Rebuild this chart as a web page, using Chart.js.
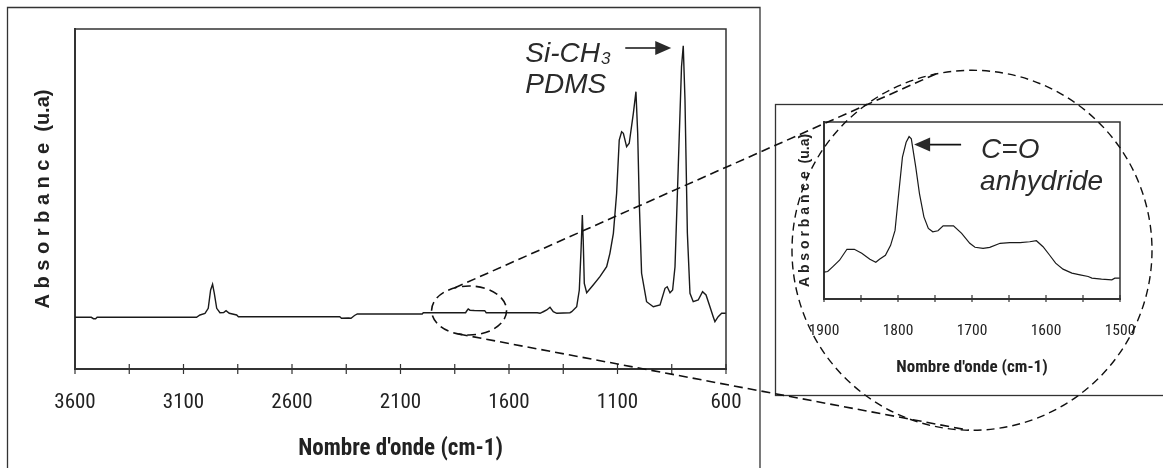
<!DOCTYPE html>
<html>
<head>
<meta charset="utf-8">
<script src="https://cdn.jsdelivr.net/npm/chart.js@4.4.1/dist/chart.umd.min.js"></script>
<style>
    html, body { margin: 0; padding: 0; background: #fff; }
    #wrap { position: relative; width: 1163px; height: 468px; overflow: hidden; background: #fff; }
    canvas { position: absolute; }
</style>
</head>
<body>
<div id="wrap">
    <canvas id="mainChart" width="1163" height="468" style="left:0;top:0"></canvas>
    <canvas id="insetChart" width="388" height="292" style="left:775px;top:104px"></canvas>
    <canvas id="overlay" width="1163" height="468" style="left:0;top:0"></canvas>
</div>
<script>
// Main FTIR spectrum (wavenumber in cm-1, absorbance in arbitrary units)
var mainWavenumber = [3600, 3525, 3515, 3505, 3498, 3040, 3024, 3001, 2986, 2975, 2966, 2958, 2947, 2932, 2915, 2904, 2889, 2855, 2847,
    2380, 2372, 2340, 2328, 2312, 2299, 2000, 1995, 1800, 1795, 1788, 1780, 1760, 1712, 1705, 1470, 1457, 1440, 1426, 1411, 1396, 1380,
    1319, 1311, 1288, 1276, 1268, 1262, 1258, 1253, 1242, 1212, 1181, 1150, 1135, 1119, 1104, 1092, 1081, 1073, 1058, 1046, 1027, 1015,
    1007, 1000, 989, 966, 935, 904, 881, 871, 858, 846, 835, 820, 805, 797, 789, 778, 766, 751, 728, 708, 692, 674, 659, 651, 636, 620, 600];
var mainAbsorbance = [51.7, 51.7, 50.3, 50.3, 51.7, 51.7, 54, 55.7, 60.7, 79, 84.7, 75.7, 60.7, 56.3, 56.5, 58.3, 55.7, 54, 52.3,
    52.3, 50.8, 51, 50.8, 53.5, 55, 55, 56.3, 56.3, 58, 60, 58.8, 58.5, 58.3, 56.3, 56.3, 55.7, 57.5, 59, 61.7, 57.3, 55.7,
    56.3, 57.3, 62.3, 79, 119, 154, 129, 85.7, 76.3, 84, 92.3, 102.3, 115.7, 135.7, 175.7, 229, 237.3, 235.7, 222.3, 225.7, 255.7, 277.3,
    235.7, 169, 95.7, 67.3, 62.3, 64, 80.7, 82.3, 76.3, 79, 102.3, 202.3, 302.3, 323.3, 269, 135.7, 75.7, 67.3, 69, 77.3, 74, 62.3, 52.3, 47.3, 52.3, 55.7, 55.7];

// Zoom on the C=O anhydride band
var insetWavenumber = [1900, 1895, 1888, 1879, 1869, 1859, 1849, 1838, 1830, 1825, 1817, 1810, 1804, 1800, 1794, 1789, 1785, 1782,
    1776, 1771, 1765, 1759, 1753, 1746, 1739, 1725, 1714, 1703, 1696, 1685, 1676, 1662, 1649, 1635, 1622, 1613, 1604, 1595, 1587,
    1577, 1565, 1554, 1543, 1538, 1525, 1511, 1507, 1500];
var insetAbsorbance = [27, 27.6, 32.6, 39, 50, 50, 46, 40, 37, 40, 44, 54, 69, 99, 142.6, 157.6, 163.3, 161,
    132.6, 106, 82.6, 71, 67.6, 68.6, 73.6, 73.6, 66, 56, 52, 51, 52, 56, 56.6, 56.6, 57.6, 58.6, 52.6, 44, 36,
    30, 26, 24.3, 22.6, 21, 20, 19.3, 21, 21];

var mainTicks = [3600, 3350, 3100, 2850, 2600, 2350, 2100, 1850, 1600, 1350, 1100, 850, 600];
var mainTickLabels = [3600, 3100, 2600, 2100, 1600, 1100, 600];
var insetTicks = [1900, 1850, 1800, 1750, 1700, 1650, 1600, 1550, 1500];
var insetTickLabels = [1900, 1800, 1700, 1600, 1500];

var narrow = '"Liberation Sans Narrow", "Arial Narrow", "Roboto Condensed", "Noto Sans Condensed", "DejaVu Sans Condensed", sans-serif';
var sans = '"Liberation Sans", Arial, sans-serif';

// Draws top/right edges of the plot box and ticks crossing the x axis
var plotFrame = {
    id: 'plotFrame',
    afterDraw: function(chart, args, opts) {
        var ctx = chart.ctx, a = chart.chartArea, xs = chart.scales.x;
        ctx.save();
        ctx.strokeStyle = '#333';
        ctx.lineWidth = opts.width;
        ctx.beginPath();
        ctx.moveTo(a.left, a.top);
        ctx.lineTo(a.right, a.top);
        ctx.lineTo(a.right, a.bottom);
        ctx.stroke();
        ctx.lineWidth = 1.2;
        ctx.beginPath();
        xs.ticks.forEach(function(t) {
            var px = xs.getPixelForValue(t.value);
            ctx.moveTo(px, a.bottom - opts.tickIn);
            ctx.lineTo(px, a.bottom + opts.tickOut);
        });
        ctx.stroke();
        ctx.restore();
    }
};

var makeSpectrum = function(wn, ab) {
    return wn.map(function(w, i) { return {x: w, y: ab[i]}; });
};

var makeOptions = function(cfg) {
    return {
        responsive: false,
        animation: false,
        layout: {padding: cfg.padding},
        plugins: {
            legend: {display: false},
            tooltip: {enabled: false},
            plotFrame: cfg.frame
        },
        scales: {
            x: {
                type: 'linear',
                reverse: true,
                min: cfg.xMin,
                max: cfg.xMax,
                afterBuildTicks: function(s) {
                    s.ticks = cfg.ticks.map(function(v) { return {value: v}; });
                },
                afterFit: function(s) { s.height = cfg.xHeight; },
                grid: {display: false},
                border: {display: true, color: '#333', width: 2},
                ticks: {
                    autoSkip: false,
                    maxRotation: 0,
                    padding: cfg.tickPadding,
                    color: '#222',
                    font: {family: narrow, size: cfg.tickSize},
                    callback: function(v) { return cfg.labels.indexOf(v) >= 0 ? String(v) : ''; }
                },
                title: {
                    display: true,
                    text: "Nombre d'onde (cm-1)",
                    color: '#222',
                    font: {family: narrow, size: cfg.xTitleSize, weight: 'bold'},
                    padding: {top: 0, bottom: cfg.xTitlePad}
                }
            },
            y: {
                min: 0,
                max: cfg.yMax,
                afterFit: function(s) { s.width = cfg.yWidth; },
                grid: {display: false},
                border: {display: true, color: '#333', width: 2},
                ticks: {display: false},
                title: {
                    display: true,
                    text: 'A b s o r b a n c e  (u.a)',
                    color: '#222',
                    font: {family: sans, size: cfg.yTitleSize, weight: 'bold'},
                    padding: {top: cfg.yTitlePad, bottom: 0}
                }
            }
        }
    };
};

var mainChart = new Chart(document.getElementById('mainChart'), {
    type: 'line',
    data: {datasets: [{
        data: makeSpectrum(mainWavenumber, mainAbsorbance),
        borderColor: '#1a1a1a', borderWidth: 1.4, pointRadius: 0, tension: 0
    }]},
    options: makeOptions({
        padding: {left: 0, top: 29, right: 437, bottom: 0},
        frame: {width: 1.5, tickIn: 5, tickOut: 5},
        xMin: 600, xMax: 3600, ticks: mainTicks, labels: mainTickLabels,
        xHeight: 99, tickPadding: 13.5, tickSize: 21, xTitleSize: 23, xTitlePad: 4.5,
        yMax: 340, yWidth: 75, yTitleSize: 20, yTitlePad: 31
    }),
    plugins: [plotFrame]
});

var insetChart = new Chart(document.getElementById('insetChart'), {
    type: 'line',
    data: {datasets: [{
        data: makeSpectrum(insetWavenumber, insetAbsorbance),
        borderColor: '#1a1a1a', borderWidth: 1.2, pointRadius: 0, tension: 0
    }]},
    options: makeOptions({
        padding: {left: 0, top: 18, right: 43, bottom: 0},
        frame: {width: 1.5, tickIn: 4, tickOut: 3},
        xMin: 1500, xMax: 1900, ticks: insetTicks, labels: insetTickLabels,
        xHeight: 97, tickPadding: 14.5, tickSize: 15.5, xTitleSize: 17, xTitlePad: 18,
        yMax: 178, yWidth: 49, yTitleSize: 14, yTitlePad: 22
    }),
    plugins: [plotFrame]
});

// Frames, labels and the dashed zoom marks on top of both charts
var drawArrow = function(ctx, x1, y1, x2, y2) {
    var dir = x2 > x1 ? 1 : -1;
    ctx.beginPath();
    ctx.moveTo(x1, y1);
    ctx.lineTo(x2 - dir * 14, y2);
    ctx.stroke();
    ctx.beginPath();
    ctx.moveTo(x2, y2);
    ctx.lineTo(x2 - dir * 16, y2 - 7);
    ctx.lineTo(x2 - dir * 16, y2 + 7);
    ctx.closePath();
    ctx.fill();
};

var drawOverlay = function() {
    var cv = document.getElementById('overlay');
    var ctx = cv.getContext('2d');
    var insetCv = document.getElementById('insetChart');
    var ox = insetCv.offsetLeft, oy = insetCv.offsetTop;
    var mx = mainChart.scales.x, my = mainChart.scales.y;
    var ix = insetChart.scales.x, iy = insetChart.scales.y;

    // outer frames
    ctx.strokeStyle = '#333';
    ctx.lineWidth = 1.3;
    ctx.beginPath();
    ctx.moveTo(7.5, 470); ctx.lineTo(7.5, 7.5); ctx.lineTo(760, 7.5); ctx.lineTo(760, 470);
    ctx.stroke();
    ctx.strokeRect(ox + 0.5, oy + 0.5, 400, insetCv.height - 1);

    // Si-CH3 label
    ctx.fillStyle = '#2a2a2a';
    ctx.strokeStyle = '#111';
    ctx.lineWidth = 1.6;
    var px = mx.getPixelForValue(797), py = my.getPixelForValue(323);
    drawArrow(ctx, px - 58, py + 2, px - 12, py + 2);
    ctx.textBaseline = 'alphabetic';
    ctx.font = 'italic 28px ' + sans;
    ctx.fillText('Si-CH', px - 158, py + 16);
    var w = ctx.measureText('Si-CH').width;
    ctx.font = 'italic 17px ' + sans;
    ctx.fillText('3', px - 158 + w + 1, py + 18);
    ctx.font = 'italic 28px ' + sans;
    ctx.fillText('PDMS', px - 158, py + 47);

    // C=O label
    var cx = ox + ix.getPixelForValue(1785), cy = oy + iy.getPixelForValue(163.3);
    drawArrow(ctx, cx + 52, cy + 8, cx + 5, cy + 8);
    ctx.fillText('C=O', cx + 72, cy + 21);
    ctx.fillText('anhydride', cx + 71, cy + 53);

    // dashed ellipse on main spectrum
    var ex = mx.getPixelForValue(1784), ey = my.getPixelForValue(58.5), erx = 37.5, ery = 24.5;
    // dashed circle round the inset
    var kx = ox + ix.getPixelForValue(1700), ky = oy + iy.getPixelForValue(49), kr = 180;
    ctx.strokeStyle = '#111';
    ctx.lineWidth = 1.6;
    ctx.setLineDash([9, 5]);
    ctx.beginPath();
    ctx.ellipse(ex, ey, erx, ery, 0, 0, Math.PI * 2);
    ctx.stroke();
    ctx.lineWidth = 1.4;
    ctx.setLineDash([8, 5]);
    ctx.beginPath();
    ctx.arc(kx, ky, kr, 0, Math.PI * 2);
    ctx.stroke();

    var rad = function(d) { return d * Math.PI / 180; };
    ctx.lineWidth = 1.6;
    ctx.setLineDash([9, 5]);
    ctx.beginPath();
    ctx.moveTo(ex + erx * Math.cos(rad(-113)), ey + ery * Math.sin(rad(-113)));
    ctx.lineTo(kx + kr * Math.cos(rad(-101.5)), ky + kr * Math.sin(rad(-101.5)));
    ctx.moveTo(ex + erx * Math.cos(rad(106)), ey + ery * Math.sin(rad(106)));
    ctx.lineTo(kx + kr * Math.cos(rad(91)), ky + kr * Math.sin(rad(91)));
    ctx.stroke();
    ctx.setLineDash([]);
};
drawOverlay();
</script>
</body>
</html>
